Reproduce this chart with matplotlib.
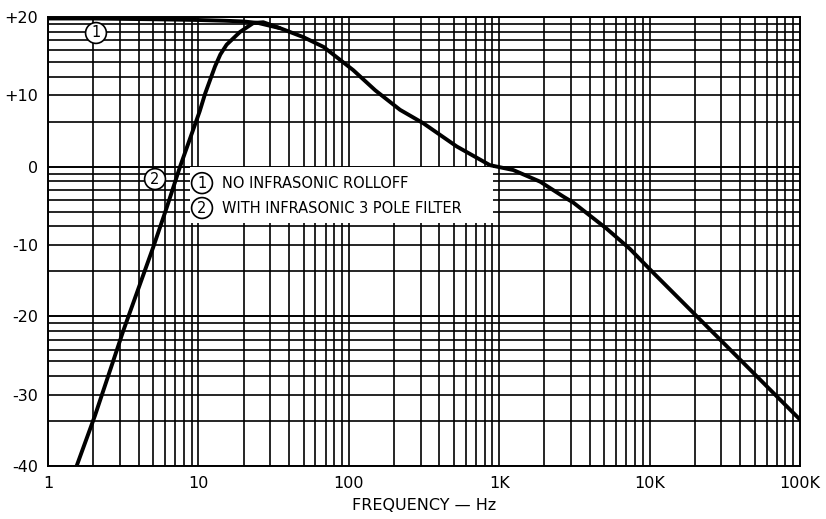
import numpy as np
import matplotlib
matplotlib.use("Agg")
import matplotlib.pyplot as plt
from matplotlib.patches import Rectangle

# ── Data ─────────────────────────────────────────────────────────────────────
# curve 1: no infrasonic rolloff
freq_1 = [1, 2, 5, 10, 15, 20, 25, 35, 50, 68, 107, 150, 219, 313, 522, 868,
          1240, 1870, 2670, 3110, 5190, 7410, 10600, 20600, 32600, 100000]
db_1 = [19.8, 19.8, 19.7, 19.6, 19.5, 19.4, 19.2, 18.5, 17.3, 16.0, 12.9, 10.2,
        7.6, 5.8, 2.7, 0.2, -0.45, -2.0, -4.0, -4.8, -8.3, -11.0, -14.2, -20.0,
        -24.0, -33.8]

# curve 2: with infrasonic 3 pole filter (joins curve 1 above ~30 Hz)
freq_2 = [1.55, 2.05, 3.17, 5.0, 6.15, 7.55, 8.36, 10.2, 11.1, 12.9, 14.0, 15.4,
          18.9, 23.2, 27, 35]
db_2 = [-40, -33.3, -21.9, -10.8, -5.5, 0.0, 2.5, 7.4, 9.8, 13.4, 15.0, 16.3,
        18.0, 19.2, 19.3, 18.5]

x_ticks = [1, 10, 100, 1000, 10000, 100000]
x_tick_labels = ["1", "10", "100", "1K", "10K", "100K"]
y_tick_labels = ["+20", "+10", "0", "-10", "-20", "-30", "-40"]
legend_labels = ["NO INFRASONIC ROLLOFF", "WITH INFRASONIC 3 POLE FILTER"]

# ── Figure ───────────────────────────────────────────────────────────────────
W, H = 826, 519
fig = plt.figure(figsize=(W / 100, H / 100), dpi=100)
ax = fig.add_axes([48 / W, (H - 466) / H, 752 / W, 449 / H])
ax.set_xscale("log")
ax.set_xlim(1, 100000)
ax.set_ylim(-40, 20)

# log-cycle graph paper: 20 dB per cycle vertically, decades horizontally
grid_kw = dict(color="black", lw=1.2, zorder=1)
for dec in range(5):
    for k in range(1, 10):
        ax.axvline(k * 10 ** dec, **grid_kw)
y_lines = []
for top in (20, 0, -20):
    for k in range(1, 11):
        y_lines.append(top + 20 * np.log10(k / 10))
for y in y_lines:
    ax.axhline(y, **grid_kw)

# tick labels sit on the x3 lines of each cycle (+10, -10, -30)
off = 20 * np.log10(0.3)
y_ticks = [20, 20 + off, 0, off, -20, -20 + off, -40]
ax.set_yticks(y_ticks)
ax.set_yticklabels(y_tick_labels)
ax.set_xticks(x_ticks)
ax.set_xticklabels(x_tick_labels)
ax.minorticks_off()
ax.tick_params(length=0, labelsize=11.5, pad=7)
for s in ax.spines.values():
    s.set_linewidth(1.4)

# legend box (white patch over the grid)
ax.add_patch(Rectangle((0.1888, 0.541), 0.403, 0.125, transform=ax.transAxes,
                       facecolor="white", edgecolor="none", zorder=2))

ax.plot(freq_1, db_1, color="black", lw=2.8, zorder=3, solid_capstyle="butt",
        solid_joinstyle="round")
ax.plot(freq_2, db_2, color="black", lw=2.8, zorder=3, solid_capstyle="butt",
        solid_joinstyle="round")

circ = dict(boxstyle="circle,pad=0.2", fc="white", ec="black", lw=1.2)
ax.text(0.0638, 0.9644, "1", transform=ax.transAxes, ha="center", va="center",
        fontsize=10.5, bbox=circ, zorder=4)
ax.text(0.1423, 0.639, "2", transform=ax.transAxes, ha="center", va="center",
        fontsize=10.5, bbox=circ, zorder=4)
for i, (yy, lab) in enumerate(zip([0.630, 0.5746], legend_labels)):
    ax.text(0.2048, yy, str(i + 1), transform=ax.transAxes, ha="center",
            va="center", fontsize=10.5, bbox=circ, zorder=4)
    ax.text(0.2314, yy, lab, transform=ax.transAxes, ha="left", va="center",
            fontsize=10.5, zorder=4)

fig.text(424 / W, 1 - 505 / H, "FREQUENCY — Hz", ha="center", va="center",
         fontsize=11.5)

fig.savefig("out.png", dpi=100)
